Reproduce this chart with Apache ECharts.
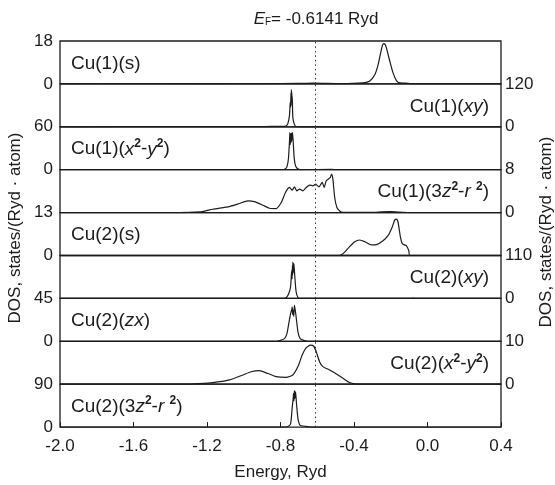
<!DOCTYPE html>
<html><head><meta charset="utf-8">
<script src="https://cdn.jsdelivr.net/npm/echarts@6/dist/echarts.min.js"></script>
<style>html,body{margin:0;padding:0;background:#fff}#c{width:555px;height:485px}</style>
</head><body><div id="c"></div><script>
// ---- data ----
const energyTicks = [-2.0, -1.6, -1.2, -0.8, -0.4, 0.0, 0.4];
const fermiEnergy = -0.6141;
const panelNames = ['Cu(1)(s)', 'Cu(1)({i|xy})', 'Cu(1)({i|x}{sup|2}-{i|y}{sup|2})', 'Cu(1)(3{i|z}{sup|2}-{i|r} {sup|2})', 'Cu(2)(s)', 'Cu(2)({i|xy})', 'Cu(2)({i|zx})', 'Cu(2)({i|x}{sup|2}-{i|y}{sup|2})', 'Cu(2)(3{i|z}{sup|2}-{i|r} {sup|2})'];
const yMaxima = [18, 120, 60, 8, 13, 110, 45, 10, 90];
const axisSides = ['left', 'right', 'left', 'right', 'left', 'right', 'left', 'right', 'left'];

const cu1_s = [[-2,0],[-1.6,0.1],[-1.2,0.05],[-0.9,0.1],[-0.7,0.25],[-0.62,0.3],[-0.55,0.2],[-0.45,0.1],[-0.38,0.3],[-0.34,0.5],[-0.314,1.2],[-0.287,3.8],[-0.269,8],[-0.255,13],[-0.245,16.2],[-0.238,16.9],[-0.23,16.5],[-0.224,15.2],[-0.205,9.5],[-0.187,4.5],[-0.169,1.4],[-0.151,0.4],[-0.12,0.3],[-0.105,0.2],[-0.09,0],[0.4,0]];
const cu1_xy = [[-2,0],[-0.93,0.5],[-0.85,1],[-0.78,1],[-0.768,3],[-0.76,9],[-0.751,32],[-0.747,70],[-0.745,55],[-0.743,95],[-0.742,60],[-0.741,104],[-0.740,70],[-0.739,98],[-0.737,75],[-0.736,85],[-0.733,27],[-0.724,6],[-0.715,1],[-0.69,0],[0.4,0]];
const cu1_x2y2 = [[-2,0],[-0.79,0],[-0.775,1],[-0.765,4],[-0.757,15],[-0.751,40],[-0.749,52],[-0.747,35],[-0.745,50],[-0.743,38],[-0.741,51],[-0.739,40],[-0.737,50],[-0.735,52],[-0.731,40],[-0.726,18],[-0.719,6],[-0.71,2],[-0.70,0.5],[-0.68,0],[-0.52,0.5],[-0.50,0],[0.4,0]];
const cu1_3z2 = [[-2,0],[-1.40,0],[-1.296,0.06],[-1.224,0.19],[-1.169,0.63],[-1.078,1.13],[-1.024,1.69],[-0.978,2.19],[-0.942,2.06],[-0.896,1.38],[-0.86,0.81],[-0.824,0.75],[-0.796,1.88],[-0.773,3.75],[-0.751,4.69],[-0.736,4.19],[-0.724,4.81],[-0.711,4.06],[-0.696,4.38],[-0.678,4.06],[-0.66,4.69],[-0.642,5.13],[-0.624,5.0],[-0.609,5.31],[-0.591,4.81],[-0.573,5.63],[-0.562,4.69],[-0.551,5.94],[-0.529,6.56],[-0.522,7.19],[-0.515,6.25],[-0.505,2.81],[-0.493,0.94],[-0.478,0.31],[-0.46,0.06],[-0.3,0.05],[-0.25,0.15],[-0.2,0.2],[-0.16,0.1],[-0.1,0],[0.4,0]];
const cu2_s = [[-2,0],[-0.48,0],[-0.469,0.2],[-0.451,1.0],[-0.424,2.7],[-0.396,4.2],[-0.369,4.7],[-0.342,4.2],[-0.305,3.2],[-0.278,3.3],[-0.242,4.5],[-0.215,6.0],[-0.193,8.5],[-0.178,10.8],[-0.169,11.0],[-0.16,10.0],[-0.147,5.5],[-0.136,3.5],[-0.115,3.0],[-0.102,1.5],[-0.096,0],[0.4,0]];
const cu2_xy = [[-2,0],[-1.31,0.4],[-1.22,0.4],[-1.1,0],[-0.78,0],[-0.769,1.7],[-0.755,12.7],[-0.745,30],[-0.739,72],[-0.737,50],[-0.735,85],[-0.734,60],[-0.733,93],[-0.731,65],[-0.729,88],[-0.728,70],[-0.727,89],[-0.722,55],[-0.715,17],[-0.705,2.5],[-0.696,0],[-0.1,0],[-0.08,0.8],[-0.06,0],[0.4,0]];
const cu2_zx = [[-2,0],[-0.82,0],[-0.805,0.7],[-0.778,2.8],[-0.765,8],[-0.755,18.6],[-0.745,29],[-0.738,34],[-0.736,36],[-0.734,28],[-0.731,32.7],[-0.728,26],[-0.724,38],[-0.715,25.7],[-0.705,9.8],[-0.693,2.8],[-0.669,0.7],[-0.651,0],[0.4,0]];
const cu2_x2y2 = [[-2,0],[-1.3,0],[-1.278,0.08],[-1.169,0.38],[-1.078,1.0],[-1.005,2.15],[-0.96,2.9],[-0.915,3.15],[-0.869,2.5],[-0.824,1.77],[-0.769,1.6],[-0.733,2.15],[-0.705,4.1],[-0.682,6.8],[-0.66,8.5],[-0.638,9.1],[-0.62,8.9],[-0.605,7.5],[-0.587,5.2],[-0.569,4.1],[-0.533,3.3],[-0.496,2.4],[-0.46,1.4],[-0.424,0.38],[-0.396,0.08],[-0.36,0],[0.4,0]];
const cu2_3z2 = [[-2,0],[-0.78,0],[-0.76,1.4],[-0.745,7],[-0.736,42.5],[-0.731,60],[-0.729,71],[-0.727,55],[-0.724,76.5],[-0.722,60],[-0.720,72],[-0.718,74],[-0.713,49.6],[-0.705,17.7],[-0.693,3.5],[-0.66,1.4],[-0.642,0],[0.4,0]];
const curves = [cu1_s, cu1_xy, cu1_x2y2, cu1_3z2, cu2_s, cu2_xy, cu2_zx, cu2_x2y2, cu2_3z2];

// ---- layout / style ----
const FONT = "'Liberation Sans', Arial, Helvetica, sans-serif";
const INK = '#1c1c1c';
const LEFT = 60, RIGHT_EDGE = 501, TOP0 = 41, PH = 42.9;
const N = curves.length;

const grids = [], xAxes = [], yAxes = [], series = [], graphics = [];
for (let i = 0; i < N; i++) {
  const last = i === N - 1;
  grids.push({left: LEFT, width: RIGHT_EDGE - LEFT, top: TOP0 + i * PH, height: PH,
    show: true, borderColor: INK, borderWidth: 1.3, containLabel: false, outerBoundsMode: 'none'});
  xAxes.push({type: 'value', gridIndex: i, min: energyTicks[0], max: energyTicks[energyTicks.length - 1], interval: 0.4,
    axisLine: {show: false}, splitLine: {show: false},
    axisTick: {show: last, inside: true, length: 5, lineStyle: {color: INK, width: 1}},
    axisLabel: {show: last, margin: 11, fontSize: 17, fontFamily: FONT, color: INK,
      formatter: v => v.toFixed(1)}});
  yAxes.push({type: 'value', gridIndex: i, position: axisSides[i], min: 0, max: yMaxima[i], interval: yMaxima[i],
    axisLine: {show: false}, splitLine: {show: false}, axisTick: {show: false},
    axisLabel: {show: true, margin: axisSides[i] === 'left' ? 7 : 4, fontSize: 17, fontFamily: FONT, color: INK}});
  series.push({type: 'line', xAxisIndex: i, yAxisIndex: i, data: curves[i], showSymbol: false, symbol: 'none',
    smooth: 0.2, lineStyle: {color: INK, width: 1.2}, silent: true, animation: false,
    markLine: {silent: true, symbol: 'none', label: {show: false},
      lineStyle: {color: '#333', type: [1.5, 3], width: 1}, data: [{xAxis: fermiEnergy}]}});
  const isLeft = axisSides[i] === 'left';
  const cy = TOP0 + i * PH + PH / 2 + 1;
  graphics.push({type: 'text', x: isLeft ? 71 : 489, y: cy, silent: true,
    style: {text: panelNames[i], fill: INK, fontSize: 19, fontFamily: FONT,
      align: isLeft ? 'left' : 'right', verticalAlign: 'middle',
      rich: {i: {fontStyle: 'italic', fontSize: 19, fontFamily: FONT, fill: INK},
             sup: {fontSize: 12, fontWeight: 'bold', fontFamily: FONT, fill: INK, padding: [0, 0, 11, 0]}}}});
}

// titles
graphics.push({type: 'text', x: 316, y: 19, silent: true,
  style: {text: '{e|E}{s|F}= -0.6141 Ryd', fill: INK, fontSize: 17, fontFamily: FONT, align: 'center', verticalAlign: 'middle',
    rich: {e: {fontStyle: 'italic', fontSize: 17, fontFamily: FONT, fill: INK},
           s: {fontSize: 10, fontFamily: FONT, fill: INK, verticalAlign: 'bottom', padding: [6, 0, 0, 0]}}}});
graphics.push({type: 'text', x: (LEFT + RIGHT_EDGE) / 2, y: 472, silent: true,
  style: {text: 'Energy, Ryd', fill: INK, fontSize: 17, fontFamily: FONT, align: 'center', verticalAlign: 'middle'}});
graphics.push({type: 'text', x: 15, y: 228, rotation: Math.PI / 2, silent: true,
  style: {text: 'DOS, states/(Ryd · atom)', fill: INK, fontSize: 17, fontFamily: FONT, align: 'center', verticalAlign: 'middle'}});
graphics.push({type: 'text', x: 546, y: 232, rotation: Math.PI / 2, silent: true,
  style: {text: 'DOS, states/(Ryd · atom)', fill: INK, fontSize: 17, fontFamily: FONT, align: 'center', verticalAlign: 'middle'}});

const chart = echarts.init(document.getElementById('c'), null, {renderer: 'canvas'});
chart.setOption({
  animation: false,
  backgroundColor: '#fff',
  grid: grids, xAxis: xAxes, yAxis: yAxes, series: series, graphic: graphics
});
</script></body></html>
